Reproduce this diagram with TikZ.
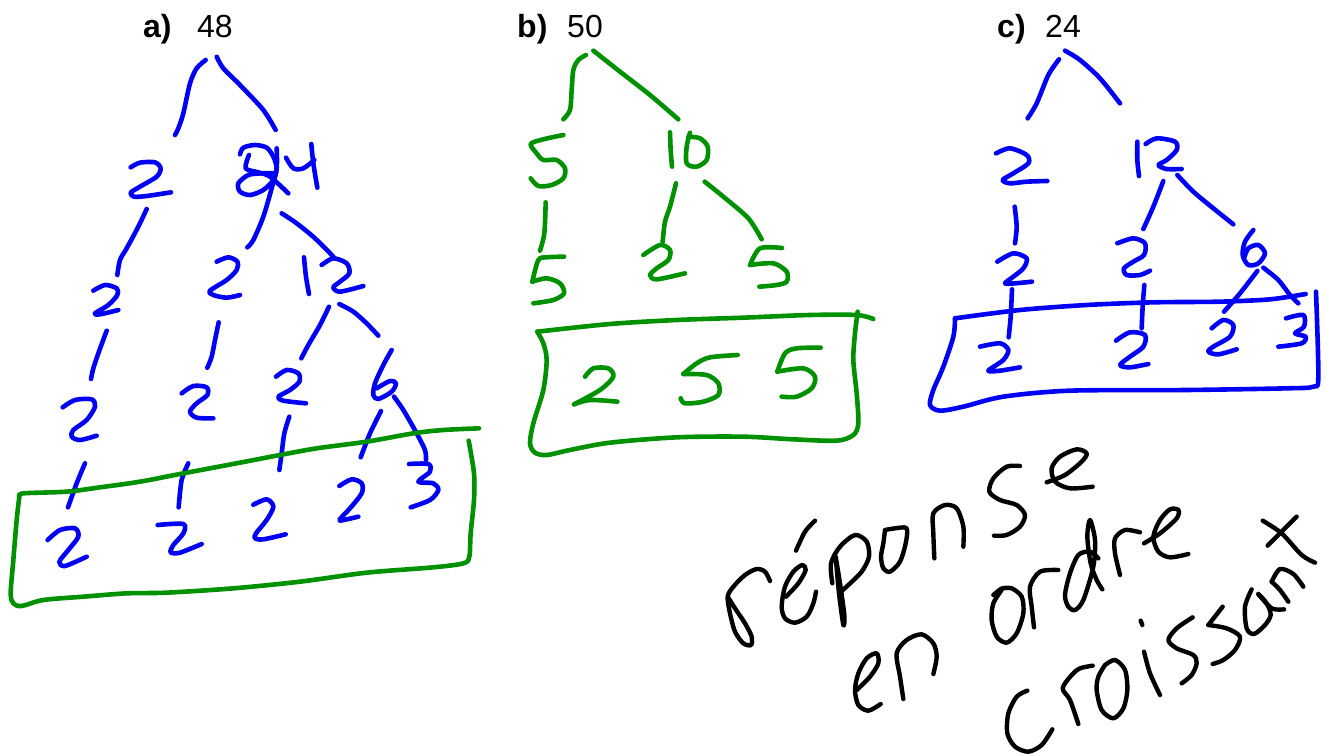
\documentclass[tikz,border=0pt]{standalone}
\usepackage{fontspec}
\setmainfont{Liberation Sans}
\definecolor{penblue}{RGB}{0,0,245}
\definecolor{pengreen}{RGB}{0,145,0}
\newcommand{\stk}[1]{\draw plot[smooth,tension=0.5] coordinates {#1};}
\tikzset{
  ink/.style={line width=4.6pt,line cap=round,line join=round},
  bluepen/.style={ink,draw=penblue},
  greenpen/.style={ink,draw=pengreen},
  blackpen/.style={ink,draw=black,line width=4.4pt},
  thirds/.style={x=0.33333pt,y=-0.33333pt},
  lbl/.style={anchor=base west,inner sep=0pt,font=\fontsize{32}{32}\selectfont},
  blbl/.style={lbl,font=\fontsize{32}{32}\selectfont\bfseries}
}
\begin{document}
\begin{tikzpicture}[x=1pt,y=-1pt]
\useasboundingbox (0,0) rectangle (1327,755);
\fill[white] (0,0) rectangle (1327,755);
\node[blbl] (la) at (143,37) {a)};
\node[lbl] (va) at (197,37) {48};
\node[blbl] (lb) at (517,37) {b)};
\node[lbl] (vb) at (567,37) {50};
\node[blbl] (lc) at (997,37) {c)};
\node[lbl] (vc) at (1045,37) {24};
% panel a top
\begin{scope}[thirds,every path/.style={bluepen}]
\stk{(617,180)(590,205)(570,250)(550,340)(535,385)(525,405)}
\stk{(650,170)(670,205)(720,255)(790,330)(827,390)}
\stk{(392,502)(420,488)(465,487)(482,505)(470,530)(420,560)(392,578)(402,590)(440,588)(513,577)}
\stk{(720,463)(730,443)(765,435)(800,443)(820,470)(830,505)(820,540)(790,570)(750,585)(720,575)(715,550)(745,525)(785,520)(820,520)}
\stk{(747,465)(737,505)(775,517)(810,530)(865,580)}
\stk{(858,473)(880,505)(910,505)(943,480)}
\stk{(934,432)(940,490)(952,563)}
\stk{(830,445)(830,505)(815,565)(790,650)(760,720)(742,742)}
\stk{(845,640)(890,670)(945,715)(1000,770)}
\stk{(440,627)(415,680)(380,745)(360,780)(352,825)}
\stk{(280,872)(315,855)(350,865)(352,885)(325,915)(285,940)(300,943)(355,930)}
\stk{(650,785)(685,772)(712,785)(710,810)(680,840)(630,872)(640,885)(680,893)(720,885)}
\stk{(912,772)(918,830)(927,882)}
\stk{(965,795)(1000,775)(1040,790)(1048,820)(1020,845)(1000,862)(1020,875)(1090,858)}
\end{scope}
% panel a bottom
\begin{scope}[shift={(0,300)},thirds,every path/.style={bluepen}]
\stk{(320,92)(295,160)(280,205)(273,237)}
\stk{(656,67)(645,120)(635,170)(622,203)}
\stk{(987,20)(960,75)(925,135)(904,175)}
\stk{(1018,12)(1060,35)(1100,70)(1135,107)}
\stk{(1175,150)(1150,195)(1125,250)(1120,285)(1135,297)(1175,275)(1188,250)(1170,243)(1130,265)}
\stk{(1182,290)(1210,330)(1250,400)(1275,450)(1278,480)}
\stk{(828,230)(860,210)(895,220)(898,245)(870,270)(835,290)(850,302)(918,310)}
\stk{(545,280)(580,258)(620,262)(622,285)(590,310)(570,335)(590,353)(640,355)}
\stk{(188,322)(225,300)(275,298)(285,320)(260,360)(220,390)(215,410)(240,420)(290,407)}
\stk{(255,490)(230,550)(204,622)}
\stk{(565,490)(545,540)(536,622)}
\stk{(868,350)(853,400)(845,460)(838,510)}
\stk{(1143,333)(1110,400)(1082,472)}
\stk{(1227,492)(1285,492)(1290,515)(1255,545)(1300,550)(1315,570)(1290,600)(1232,622)}
\stk{(1018,558)(1055,538)(1085,550)(1085,580)(1050,625)(1018,660)(1040,658)(1075,650)}
\stk{(760,614)(800,598)(820,620)(800,660)(768,700)(765,715)(790,718)(857,703)}
\stk{(473,675)(550,672)(550,700)(520,735)(512,757)(540,758)(605,732)}
\stk{(143,720)(180,690)(225,685)(235,710)(205,750)(178,785)(195,798)(260,770)}
\end{scope}
\begin{scope}[shift={(0,300)},thirds,every path/.style={greenpen}]
\stk{(1437,385)(1330,390)(1240,400)(1100,425)(950,445)(840,465)(720,488)(550,520)(420,545)(300,562)(200,575)(70,580)(58,590)}
\stk{(58,590)(50,660)(40,780)(32,880)(40,910)(65,918)(130,900)(250,890)(380,880)(500,878)(700,865)(900,845)(1100,818)(1300,802)(1390,790)(1408,770)(1412,700)(1422,600)(1422,520)(1406,422)}
\end{scope}
% panel b
\begin{scope}[shift={(510,0)},thirds,every path/.style={greenpen}]
\stk{(228,165)(205,180)(190,210)(185,270)(180,330)(160,358)}
\stk{(250,152)(330,215)(420,285)(505,358)}
\stk{(160,405)(100,418)(62,432)(80,460)(100,480)(140,480)(165,505)(160,535)(125,555)(85,558)(62,535)}
\stk{(480,397)(482,450)(486,500)}
\stk{(540,398)(530,440)(530,490)(560,500)(590,480)(593,440)(570,415)(535,410)}
\stk{(107,607)(103,700)(90,752)}
\stk{(498,550)(480,620)(465,665)(458,725)}
\stk{(584,545)(640,590)(715,655)(755,718)}
\stk{(162,770)(110,772)(85,780)(67,845)}
\stk{(67,845)(110,835)(150,850)(162,880)(130,900)(70,910)}
\stk{(400,765)(450,735)(480,750)(475,780)(440,805)(420,825)(440,838)(525,820)}
\stk{(816,744)(750,745)(720,795)}
\stk{(720,795)(790,790)(830,815)(830,845)(800,855)(748,860)}
\stk{(1090,957)(1040,945)(900,945)(700,953)(500,960)(300,972)(82,995)}
\stk{(82,995)(100,1030)(110,1080)(100,1170)(70,1270)(60,1330)(75,1358)(110,1365)(180,1350)(300,1328)(500,1312)(700,1310)(850,1318)(980,1322)(1030,1305)(1045,1270)(1040,1180)(1030,1080)(1035,1000)(1043,935)}
\stk{(225,1130)(250,1105)(295,1105)(310,1130)(270,1170)(192,1213)}
\stk{(192,1213)(240,1200)(322,1205)}
\stk{(683,1065)(600,1072)(560,1090)(520,1122)}
\stk{(520,1122)(590,1125)(625,1150)(625,1185)(580,1205)(525,1210)(512,1195)}
\stk{(932,1043)(860,1045)(825,1060)(802,1115)}
\stk{(802,1115)(880,1105)(915,1130)(905,1165)(860,1190)(815,1190)}
\end{scope}
% panel c
\begin{scope}[shift={(920,0)},thirds,every path/.style={bluepen}]
\stk{(417,178)(385,225)(350,310)(323,355)}
\stk{(435,152)(480,180)(540,235)(600,310)}
\stk{(228,460)(270,445)(320,465)(325,490)(280,520)(248,540)(270,550)(320,545)(382,543)}
\stk{(652,425)(652,480)(657,528)}
\stk{(677,432)(710,415)(765,425)(770,450)(740,480)(715,495)(740,507)(785,507)}
\stk{(730,543)(700,620)(670,687)}
\stk{(772,525)(820,575)(880,625)(940,673)}
\stk{(284,620)(290,680)(285,730)}
\stk{(232,785)(280,760)(320,775)(310,805)(280,830)(255,850)(285,850)(336,845)}
\stk{(592,730)(640,715)(675,730)(672,765)(640,785)(612,805)(620,825)(660,825)(690,812)}
\stk{(1000,690)(975,725)(968,765)(985,795)(1015,790)(1035,760)(1015,735)(985,745)(972,775)}
\stk{(1012,813)(960,880)(912,935)}
\stk{(1030,803)(1075,840)(1110,885)(1135,910)}
\stk{(276,868)(272,950)(266,1012)}
\stk{(673,855)(668,920)(665,985)}
\stk{(588,1022)(630,997)(675,1005)(670,1040)(630,1070)(600,1095)(630,1102)(685,1092)}
\stk{(180,1040)(240,1030)(265,1050)(250,1080)(205,1112)(240,1112)(300,1102)}
\stk{(875,985)(910,960)(940,975)(930,1010)(880,1040)(865,1055)(895,1063)(950,1048)}
\stk{(1098,955)(1150,945)(1152,980)(1125,1000)(1157,1010)(1145,1030)(1075,1040)}
\stk{(1157,882)(1050,898)(900,905)(700,907)(500,915)(300,930)(105,955)}
\stk{(105,955)(100,1010)(70,1100)(40,1170)(30,1215)(60,1232)(130,1220)(250,1190)(450,1172)(800,1170)(1100,1165)(1180,1160)(1195,1130)(1188,875)}
\end{scope}
% handwriting: reponse, en, o
\begin{scope}[shift={(715,500)},thirds,every path/.style={blackpen}]
\stk{(165,243)(150,215)(125,207)(90,225)(55,260)(38,290)(45,340)(60,395)(85,430)(108,435)(110,410)(90,370)(60,325)(38,290)}
\stk{(300,62)(270,95)(243,152)}
\stk{(213,290)(250,250)(272,210)(262,195)(235,215)(210,260)(200,320)(210,355)(240,368)(275,350)(295,310)(303,275)}
\stk{(362,170)(372,280)(385,375)(388,345)(375,250)(362,170)}
\stk{(352,250)(348,190)(375,140)(420,105)(455,125)(462,170)(440,215)(400,255)(372,280)}
\stk{(510,90)(505,130)(498,170)(505,205)(525,215)(555,185)(572,130)(575,85)(540,85)(510,90)}
\stk{(658,175)(655,100)(655,40)(690,15)(725,25)(745,80)(745,140)}
\stk{(425,570)(465,530)(490,490)(485,460)(455,475)(430,520)(420,570)(430,615)(460,632)(497,612)}
\stk{(565,597)(555,530)(545,460)(575,420)(620,403)(655,430)(665,470)(655,522)}
\stk{(835,285)(862,265)(835,310)(830,360)(845,410)(875,428)(905,400)(925,340)(920,290)(890,265)(862,265)}
\end{scope}
% handwriting: ordre, croissant
\begin{scope}[shift={(1000,500)},thirds,every path/.style={blackpen}]
\stk{(102,382)(95,320)(90,260)(120,215)(175,210)}
\stk{(295,175)(270,155)(235,165)(210,220)(195,285)(205,320)(225,330)(250,300)(280,200)(285,120)(270,60)(262,110)(272,190)(290,240)(307,268)}
\stk{(360,225)(345,160)(345,115)(375,90)(420,97)}
\stk{(432,130)(480,100)(530,55)(535,30)(510,28)(480,60)(460,110)(475,155)(510,172)(565,162)}
\stk{(82,572)(50,590)(25,640)(22,700)(45,740)(85,755)(125,735)(157,688)}
\stk{(235,672)(210,600)(188,565)(215,525)(240,505)(278,497)}
\stk{(315,495)(295,530)(290,570)(305,630)(340,655)(370,625)(382,570)(375,510)(345,480)(315,495)}
\stk{(422,362)(427,375)}
\stk{(432,455)(450,520)(480,585)}
\stk{(578,352)(530,385)(505,420)(530,445)(580,465)(590,490)(575,525)(545,550)}
\stk{(668,320)(625,375)}
\stk{(625,375)(680,385)(720,410)(705,450)(670,480)(638,492)}
\stk{(755,268)(735,320)(740,385)(762,402)(795,375)(812,345)(800,310)(775,282)}
\stk{(775,282)(815,325)(852,328)}
\stk{(865,305)(840,270)(815,245)}
\stk{(815,245)(840,207)(880,222)(910,260)}
\stk{(788,62)(845,100)(905,165)(945,188)}
\stk{(890,50)(850,90)(803,137)}
\end{scope}
% handwriting: s, e
\begin{scope}[shift={(900,440)},thirds,every path/.style={blackpen}]
\stk{(360,78)(320,80)(280,115)(268,155)(300,180)(350,195)(375,225)(360,260)(320,285)(282,287)}
\stk{(440,127)(495,105)(545,65)(560,40)(530,28)(480,50)(455,85)(465,125)(510,145)(578,140)}
\end{scope}
\end{tikzpicture}
\end{document}
